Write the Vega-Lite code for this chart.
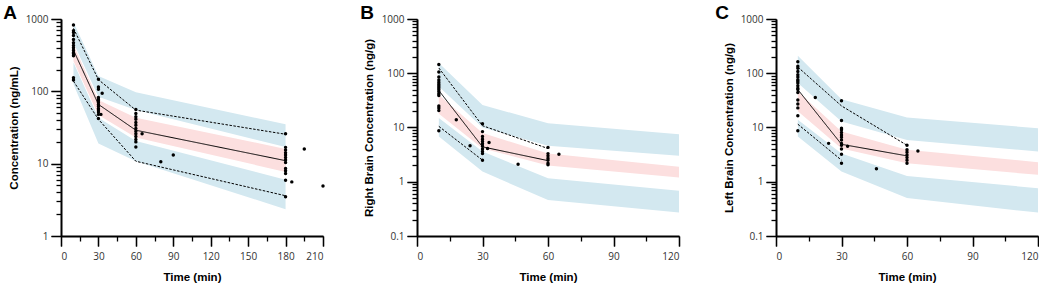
{
"$schema": "https://vega.github.io/schema/vega-lite/v6.json",
"padding": {"left": 3, "top": 4, "right": 0, "bottom": 0},
"spacing": 35,
"config": {"view": {"stroke": null}, "axis": {"grid": false, "domainColor": "#000000", "domainWidth": 2, "labelFont": "Open Sans", "labelFontSize": 10, "labelColor": "#333", "labelPadding": 3, "labelOverlap": false, "titleFont": "Liberation Sans", "titleFontSize": 11.5, "titleFontWeight": "bold", "titleColor": "black"}, "axisX": {"labelPadding": 5, "titlePadding": 10}},
"datasets": {
"bands": [
{"p":"A","b":"hi","t":10,"lo":470,"hi":900},{"p":"A","b":"hi","t":30,"lo":84,"hi":163},{"p":"A","b":"hi","t":60,"lo":55,"hi":97},{"p":"A","b":"hi","t":180,"lo":17,"hi":35},
{"p":"A","b":"mid","t":10,"lo":260,"hi":440},{"p":"A","b":"mid","t":30,"lo":47,"hi":76},{"p":"A","b":"mid","t":60,"lo":23,"hi":43},{"p":"A","b":"mid","t":180,"lo":7.7,"hi":16},
{"p":"A","b":"lo","t":10,"lo":125,"hi":250},{"p":"A","b":"lo","t":30,"lo":19,"hi":43},{"p":"A","b":"lo","t":60,"lo":10.8,"hi":20.5},{"p":"A","b":"lo","t":180,"lo":2.35,"hi":6.0},
{"p":"B","b":"hi","t":10,"lo":57,"hi":155},{"p":"B","b":"hi","t":30,"lo":10,"hi":26},{"p":"B","b":"hi","t":60,"lo":4.6,"hi":12},{"p":"B","b":"hi","t":120,"lo":3.0,"hi":7.5},
{"p":"B","b":"mid","t":10,"lo":18,"hi":40},{"p":"B","b":"mid","t":30,"lo":4.1,"hi":7.9},{"p":"B","b":"mid","t":60,"lo":2.0,"hi":3.3},{"p":"B","b":"mid","t":120,"lo":1.2,"hi":1.9},
{"p":"B","b":"lo","t":10,"lo":6.8,"hi":15},{"p":"B","b":"lo","t":30,"lo":1.54,"hi":3.6},{"p":"B","b":"lo","t":60,"lo":0.46,"hi":1.16},{"p":"B","b":"lo","t":120,"lo":0.27,"hi":0.68},
{"p":"C","b":"hi","t":10,"lo":66,"hi":210},{"p":"C","b":"hi","t":30,"lo":12.9,"hi":33},{"p":"C","b":"hi","t":60,"lo":5.9,"hi":15.3},{"p":"C","b":"hi","t":120,"lo":3.6,"hi":9.7},
{"p":"C","b":"mid","t":10,"lo":20,"hi":46},{"p":"C","b":"mid","t":30,"lo":4.1,"hi":8.4},{"p":"C","b":"mid","t":60,"lo":2.2,"hi":3.9},{"p":"C","b":"mid","t":120,"lo":1.34,"hi":2.3},
{"p":"C","b":"lo","t":10,"lo":6.8,"hi":13.9},{"p":"C","b":"lo","t":30,"lo":1.54,"hi":3.3},{"p":"C","b":"lo","t":60,"lo":0.5,"hi":1.28},{"p":"C","b":"lo","t":120,"lo":0.27,"hi":0.76}
],
"lines": [
{"p":"A","q":"p95","t":10,"v":740},{"p":"A","q":"p95","t":30,"v":145},{"p":"A","q":"p95","t":60,"v":55},{"p":"A","q":"p95","t":180,"v":25.5},
{"p":"A","q":"p50","t":10,"v":370},{"p":"A","q":"p50","t":30,"v":66},{"p":"A","q":"p50","t":60,"v":29},{"p":"A","q":"p50","t":180,"v":11},
{"p":"A","q":"p5","t":10,"v":138},{"p":"A","q":"p5","t":30,"v":41},{"p":"A","q":"p5","t":60,"v":10.8},{"p":"A","q":"p5","t":180,"v":3.6},
{"p":"B","q":"p95","t":10,"v":125},{"p":"B","q":"p95","t":30,"v":10.8},{"p":"B","q":"p95","t":60,"v":4.1},
{"p":"B","q":"p50","t":10,"v":48},{"p":"B","q":"p50","t":30,"v":4.4},{"p":"B","q":"p50","t":60,"v":2.45},
{"p":"B","q":"p5","t":10,"v":10.5},{"p":"B","q":"p5","t":30,"v":2.5},
{"p":"C","q":"p95","t":10,"v":130},{"p":"C","q":"p95","t":30,"v":25},{"p":"C","q":"p95","t":60,"v":4.7},
{"p":"C","q":"p50","t":10,"v":50},{"p":"C","q":"p50","t":30,"v":4.9},{"p":"C","q":"p50","t":60,"v":3.0},
{"p":"C","q":"p5","t":10,"v":11.5},{"p":"C","q":"p5","t":30,"v":2.5}
],
"pts": [
{"p":"A","t":10,"v":826},{"p":"A","t":10,"v":690},{"p":"A","t":10,"v":650},{"p":"A","t":10,"v":590},{"p":"A","t":10,"v":520},{"p":"A","t":10,"v":470},{"p":"A","t":10,"v":430},{"p":"A","t":10,"v":400},{"p":"A","t":10,"v":370},{"p":"A","t":10,"v":345},{"p":"A","t":10,"v":330},{"p":"A","t":10,"v":310},{"p":"A","t":10,"v":154},{"p":"A","t":10,"v":143},
{"p":"A","t":30,"v":147},{"p":"A","t":30,"v":115},{"p":"A","t":30,"v":107},{"p":"A","t":30,"v":82},{"p":"A","t":30,"v":78},{"p":"A","t":30,"v":74},{"p":"A","t":30,"v":70},{"p":"A","t":30,"v":66},{"p":"A","t":30,"v":62},{"p":"A","t":30,"v":58},{"p":"A","t":30,"v":55},{"p":"A","t":30,"v":52},{"p":"A","t":30,"v":48},{"p":"A","t":30,"v":42},
{"p":"A","t":33,"v":94},{"p":"A","t":32,"v":48},
{"p":"A","t":60,"v":56},{"p":"A","t":60,"v":49.5},{"p":"A","t":60,"v":44.6},{"p":"A","t":60,"v":41},{"p":"A","t":60,"v":37},{"p":"A","t":60,"v":34},{"p":"A","t":60,"v":30.7},{"p":"A","t":60,"v":28},{"p":"A","t":60,"v":26},{"p":"A","t":60,"v":23.7},{"p":"A","t":60,"v":21.6},{"p":"A","t":60,"v":20},{"p":"A","t":60,"v":17},
{"p":"A","t":65,"v":26},{"p":"A","t":80,"v":10.6},{"p":"A","t":90,"v":13.2},
{"p":"A","t":180,"v":26},{"p":"A","t":180,"v":16.8},{"p":"A","t":180,"v":15.4},{"p":"A","t":180,"v":14.2},{"p":"A","t":180,"v":13.2},{"p":"A","t":180,"v":12.2},{"p":"A","t":180,"v":11.2},{"p":"A","t":180,"v":10.4},{"p":"A","t":180,"v":8.6},{"p":"A","t":180,"v":8.0},{"p":"A","t":180,"v":7.3},{"p":"A","t":180,"v":5.9},{"p":"A","t":180,"v":3.5},
{"p":"A","t":195,"v":15.9},{"p":"A","t":185,"v":5.6},{"p":"A","t":210,"v":4.9},
{"p":"B","t":10,"v":145},{"p":"B","t":10,"v":105},{"p":"B","t":10,"v":85},{"p":"B","t":10,"v":75},{"p":"B","t":10,"v":68},{"p":"B","t":10,"v":63},{"p":"B","t":10,"v":58},{"p":"B","t":10,"v":54},{"p":"B","t":10,"v":50},{"p":"B","t":10,"v":46},{"p":"B","t":10,"v":42},{"p":"B","t":10,"v":39},{"p":"B","t":10,"v":25},{"p":"B","t":10,"v":23},{"p":"B","t":10,"v":20.5},{"p":"B","t":10,"v":8.7},
{"p":"B","t":18,"v":13.9},{"p":"B","t":24.3,"v":4.6},{"p":"B","t":33,"v":5.3},{"p":"B","t":32.3,"v":4.1},{"p":"B","t":46.3,"v":2.1},{"p":"B","t":65,"v":3.2},
{"p":"B","t":30,"v":11.7},{"p":"B","t":30,"v":8.4},{"p":"B","t":30,"v":6.8},{"p":"B","t":30,"v":6.1},{"p":"B","t":30,"v":5.5},{"p":"B","t":30,"v":5.0},{"p":"B","t":30,"v":4.5},{"p":"B","t":30,"v":4.0},{"p":"B","t":30,"v":3.6},{"p":"B","t":30,"v":3.3},{"p":"B","t":30,"v":2.5},
{"p":"B","t":60,"v":4.3},{"p":"B","t":60,"v":3.3},{"p":"B","t":60,"v":3.0},{"p":"B","t":60,"v":2.7},{"p":"B","t":60,"v":2.5},{"p":"B","t":60,"v":2.2},{"p":"B","t":60,"v":2.05},
{"p":"C","t":10,"v":163},{"p":"C","t":10,"v":134},{"p":"C","t":10,"v":124},{"p":"C","t":10,"v":108},{"p":"C","t":10,"v":94},{"p":"C","t":10,"v":85},{"p":"C","t":10,"v":76},{"p":"C","t":10,"v":71},{"p":"C","t":10,"v":66},{"p":"C","t":10,"v":59},{"p":"C","t":10,"v":53},{"p":"C","t":10,"v":50},{"p":"C","t":10,"v":44},{"p":"C","t":10,"v":32},{"p":"C","t":10,"v":27},{"p":"C","t":10,"v":23},{"p":"C","t":10,"v":16.4},{"p":"C","t":10,"v":8.7},
{"p":"C","t":18,"v":35.8},{"p":"C","t":24.1,"v":5.1},{"p":"C","t":32.8,"v":4.5},{"p":"C","t":46,"v":1.73},{"p":"C","t":65,"v":3.7},
{"p":"C","t":30,"v":31},{"p":"C","t":30,"v":13.5},{"p":"C","t":30,"v":9.7},{"p":"C","t":30,"v":9.1},{"p":"C","t":30,"v":8.1},{"p":"C","t":30,"v":7.3},{"p":"C","t":30,"v":6.6},{"p":"C","t":30,"v":5.9},{"p":"C","t":30,"v":5.1},{"p":"C","t":30,"v":4.7},{"p":"C","t":30,"v":4.0},{"p":"C","t":30,"v":3.2},{"p":"C","t":30,"v":2.2},
{"p":"C","t":60,"v":4.7},{"p":"C","t":60,"v":3.9},{"p":"C","t":60,"v":3.5},{"p":"C","t":60,"v":3.1},{"p":"C","t":60,"v":2.8},{"p":"C","t":60,"v":2.5},{"p":"C","t":60,"v":2.2}
]
},
"hconcat": [
{
"width": 262, "height": 217,
"title": {"text": "A", "anchor": "start", "frame": "bounds", "dx": -5, "dy": 18, "offset": -6, "baseline": "alphabetic", "fontSize": 19, "fontWeight": "bold", "font": "Liberation Sans", "color": "black"},
"resolve": {"axis": {"x": "independent", "y": "independent"}},
"layer": [
{"data": {"name": "bands"}, "transform": [{"filter": "datum.p === 'A'"}], "mark": {"type": "area", "opacity": 1},
 "encoding": {
  "x": {"field": "t", "type": "quantitative", "scale": {"domain": [0, 210], "nice": false}, "axis": {"orient": "bottom", "title": "Time (min)", "values": [0,30,60,90,120,150,180,210], "tickSize": 10, "tickColor": "black", "tickWidth": 1.3}},
  "y": {"field": "lo", "type": "quantitative", "scale": {"type": "log", "domain": [1, 1000], "nice": false}, "axis": {"orient": "left", "title": "Concentration (ng/mL)", "titlePadding": 6, "values": [1,10,100,1000], "labelExpr": "format(datum.value, '~g')", "tickSize": 10, "tickColor": "black", "tickWidth": 1.3}},
  "y2": {"field": "hi"},
  "color": {"field": "b", "type": "nominal", "scale": {"domain": ["hi", "mid", "lo"], "range": ["#d3e8f0", "#fcdfdf", "#d3e8f0"]}, "legend": null}
 }},
{"data": {"name": "lines"}, "transform": [{"filter": "datum.p === 'A'"}], "mark": {"type": "line", "color": "black", "strokeWidth": 1},
 "encoding": {
  "x": {"field": "t", "type": "quantitative", "axis": {"orient": "bottom", "title": null, "labels": false, "domain": false, "tickSize": 10, "tickColor": "black", "tickWidth": 1.3, "values": [0,30,60,90,120,150,180,210]}},
  "y": {"field": "v", "type": "quantitative", "axis": {"orient": "left", "title": null, "labels": false, "domain": false, "tickSize": 10, "tickColor": "black", "tickWidth": 1.3, "values": [1,10,100,1000]}},
  "detail": {"field": "q"},
  "strokeDash": {"field": "q", "type": "nominal", "scale": {"domain": ["p95", "p50", "p5"], "range": [[2.5, 1.5], [1, 0], [2.5, 1.5]]}, "legend": null}}},
{"data": {"name": "pts"}, "transform": [{"filter": "datum.p === 'A'"}], "mark": {"type": "circle", "color": "black", "opacity": 1, "size": 12},
 "encoding": {
  "x": {"field": "t", "type": "quantitative", "axis": {"orient": "bottom", "title": null, "labels": false, "domain": false, "tickSize": 5, "tickColor": "black", "tickWidth": 1.3, "values": [15,45,75,105,135,165,195]}},
  "y": {"field": "v", "type": "quantitative", "axis": {"orient": "left", "title": null, "labels": false, "domain": false, "tickSize": 5, "tickColor": "black", "tickWidth": 1.3, "values": [2,3,4,5,6,7,8,9,20,30,40,50,60,70,80,90,200,300,400,500,600,700,800,900]}}}}
]
},
{
"width": 262, "height": 217,
"title": {"text": "B", "anchor": "start", "frame": "bounds", "dx": -3, "dy": 18, "offset": -6, "baseline": "alphabetic", "fontSize": 19, "fontWeight": "bold", "font": "Liberation Sans", "color": "black"},
"resolve": {"axis": {"x": "independent", "y": "independent"}},
"layer": [
{"data": {"name": "bands"}, "transform": [{"filter": "datum.p === 'B'"}], "mark": {"type": "area", "opacity": 1},
 "encoding": {
  "x": {"field": "t", "type": "quantitative", "scale": {"domain": [0, 120], "nice": false}, "axis": {"orient": "bottom", "title": "Time (min)", "values": [0,30,60,90,120], "tickSize": 10, "tickColor": "black", "tickWidth": 1.3}},
  "y": {"field": "lo", "type": "quantitative", "scale": {"type": "log", "domain": [0.1, 1000], "nice": false}, "axis": {"orient": "left", "title": "Right Brain Concentration (ng/g)", "titlePadding": 7, "values": [0.1,1,10,100,1000], "labelExpr": "format(datum.value, '~g')", "tickSize": 10, "tickColor": "black", "tickWidth": 1.3}},
  "y2": {"field": "hi"},
  "color": {"field": "b", "type": "nominal", "scale": {"domain": ["hi", "mid", "lo"], "range": ["#d3e8f0", "#fcdfdf", "#d3e8f0"]}, "legend": null}
 }},
{"data": {"name": "lines"}, "transform": [{"filter": "datum.p === 'B'"}], "mark": {"type": "line", "color": "black", "strokeWidth": 1},
 "encoding": {
  "x": {"field": "t", "type": "quantitative", "axis": {"orient": "bottom", "title": null, "labels": false, "domain": false, "tickSize": 10, "tickColor": "black", "tickWidth": 1.3, "values": [0,30,60,90,120]}},
  "y": {"field": "v", "type": "quantitative", "axis": {"orient": "left", "title": null, "labels": false, "domain": false, "tickSize": 10, "tickColor": "black", "tickWidth": 1.3, "values": [0.1,1,10,100,1000]}},
  "detail": {"field": "q"},
  "strokeDash": {"field": "q", "type": "nominal", "scale": {"domain": ["p95", "p50", "p5"], "range": [[2.5, 1.5], [1, 0], [2.5, 1.5]]}, "legend": null}}},
{"data": {"name": "pts"}, "transform": [{"filter": "datum.p === 'B'"}], "mark": {"type": "circle", "color": "black", "opacity": 1, "size": 12},
 "encoding": {
  "x": {"field": "t", "type": "quantitative", "axis": {"orient": "bottom", "title": null, "labels": false, "domain": false, "tickSize": 5, "tickColor": "black", "tickWidth": 1.3, "values": [15,45,75,105]}},
  "y": {"field": "v", "type": "quantitative", "axis": {"orient": "left", "title": null, "labels": false, "domain": false, "tickSize": 5, "tickColor": "black", "tickWidth": 1.3, "values": [0.2,0.3,0.4,0.5,0.6,0.7,0.8,0.9,2,3,4,5,6,7,8,9,20,30,40,50,60,70,80,90,200,300,400,500,600,700,800,900]}}}}
]
},
{
"width": 262, "height": 217,
"title": {"text": "C", "anchor": "start", "frame": "bounds", "dx": -8, "dy": 18, "offset": -6, "baseline": "alphabetic", "fontSize": 19, "fontWeight": "bold", "font": "Liberation Sans", "color": "black"},
"resolve": {"axis": {"x": "independent", "y": "independent"}},
"layer": [
{"data": {"name": "bands"}, "transform": [{"filter": "datum.p === 'C'"}], "mark": {"type": "area", "opacity": 1},
 "encoding": {
  "x": {"field": "t", "type": "quantitative", "scale": {"domain": [0, 120], "nice": false}, "axis": {"orient": "bottom", "title": "Time (min)", "values": [0,30,60,90,120], "tickSize": 10, "tickColor": "black", "tickWidth": 1.3}},
  "y": {"field": "lo", "type": "quantitative", "scale": {"type": "log", "domain": [0.1, 1000], "nice": false}, "axis": {"orient": "left", "title": "Left Brain Concentration (ng/g)", "titlePadding": 6, "values": [0.1,1,10,100,1000], "labelExpr": "format(datum.value, '~g')", "tickSize": 10, "tickColor": "black", "tickWidth": 1.3}},
  "y2": {"field": "hi"},
  "color": {"field": "b", "type": "nominal", "scale": {"domain": ["hi", "mid", "lo"], "range": ["#d3e8f0", "#fcdfdf", "#d3e8f0"]}, "legend": null}
 }},
{"data": {"name": "lines"}, "transform": [{"filter": "datum.p === 'C'"}], "mark": {"type": "line", "color": "black", "strokeWidth": 1},
 "encoding": {
  "x": {"field": "t", "type": "quantitative", "axis": {"orient": "bottom", "title": null, "labels": false, "domain": false, "tickSize": 10, "tickColor": "black", "tickWidth": 1.3, "values": [0,30,60,90,120]}},
  "y": {"field": "v", "type": "quantitative", "axis": {"orient": "left", "title": null, "labels": false, "domain": false, "tickSize": 10, "tickColor": "black", "tickWidth": 1.3, "values": [0.1,1,10,100,1000]}},
  "detail": {"field": "q"},
  "strokeDash": {"field": "q", "type": "nominal", "scale": {"domain": ["p95", "p50", "p5"], "range": [[2.5, 1.5], [1, 0], [2.5, 1.5]]}, "legend": null}}},
{"data": {"name": "pts"}, "transform": [{"filter": "datum.p === 'C'"}], "mark": {"type": "circle", "color": "black", "opacity": 1, "size": 12},
 "encoding": {
  "x": {"field": "t", "type": "quantitative", "axis": {"orient": "bottom", "title": null, "labels": false, "domain": false, "tickSize": 5, "tickColor": "black", "tickWidth": 1.3, "values": [15,45,75,105]}},
  "y": {"field": "v", "type": "quantitative", "axis": {"orient": "left", "title": null, "labels": false, "domain": false, "tickSize": 5, "tickColor": "black", "tickWidth": 1.3, "values": [0.2,0.3,0.4,0.5,0.6,0.7,0.8,0.9,2,3,4,5,6,7,8,9,20,30,40,50,60,70,80,90,200,300,400,500,600,700,800,900]}}}}
]
}
]
}
